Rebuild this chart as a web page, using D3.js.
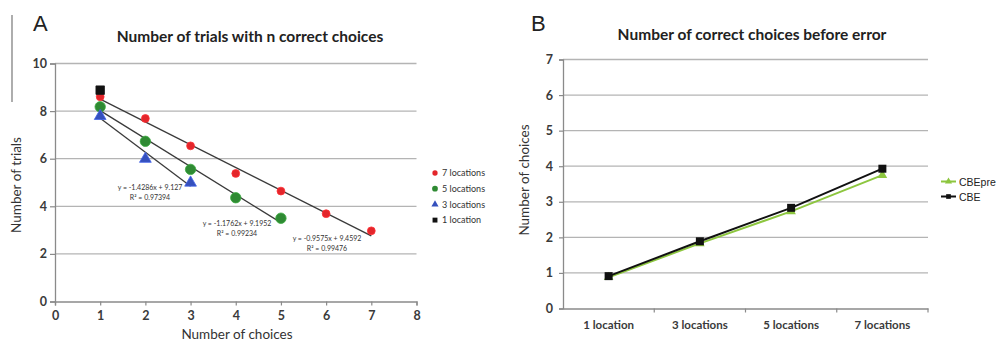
<!DOCTYPE html>
<html>
<head>
<meta charset="utf-8">
<script src="https://cdn.jsdelivr.net/npm/d3@7"></script>
<style>
  html, body { margin: 0; padding: 0; background: #fff; }
  svg { display: block; }
  text { font-family: Lato, "Open Sans", sans-serif; }
</style>
</head>
<body>
<svg id="chart" width="1000" height="342"></svg>
<script>
// ---------- Panel A: number of trials with n correct choices ----------
const choicesA = [1, 2, 3, 4, 5, 6, 7];
const loc7 = [8.6, 7.69, 6.54, 5.38, 4.64, 3.69, 2.97];
const loc5 = [8.18, 6.73, 5.55, 4.36, 3.50];
const loc3 = [7.79, 5.99, 4.99];
const loc1 = [8.88];
const seriesNamesA = ["7 locations", "5 locations", "3 locations", "1 location"];
const seriesColorsA = ["#e3262b", "#2f8a33", "#3550bd", "#111111"];
const xTicksA = [0, 1, 2, 3, 4, 5, 6, 7, 8];
const yTicksA = [0, 2, 4, 6, 8, 10];
// linear trend fits (slope, intercept, R²) and the x-range each spans
const trendSlopes = [-0.9575, -1.1762, -1.4286];
const trendIntercepts = [9.4592, 9.1952, 9.127];
const trendR2 = ["0.99476", "0.99234", "0.97394"];
const trendXEnd = [7, 5, 3];

// ---------- Panel B: number of correct choices before error ----------
const categoriesB = ["1 location", "3 locations", "5 locations", "7 locations"];
const cbePre = [0.88, 1.83, 2.73, 3.75];
const cbe = [0.91, 1.89, 2.83, 3.93];
const yTicksB = [0, 1, 2, 3, 4, 5, 6, 7];

const svg = d3.select("#chart");
const gridColor = "#b4b4b4";
const axisColor = "#8a8a8a";

// ================= Panel A =================
const xA = d3.scaleLinear().domain([0, 8]).range([55, 416.5]);
const yA = d3.scaleLinear().domain([0, 10]).range([301.5, 63.5]);
const gA = svg.append("g");

// thin divider line at the far left
gA.append("line").attr("x1", 12).attr("x2", 12).attr("y1", 15).attr("y2", 102)
  .attr("stroke", "#777").attr("stroke-width", 1.2);

gA.append("text").attr("x", 33).attr("y", 31).text("A")
  .style("font-family", "'Liberation Sans', Arial, sans-serif").style("font-size", "22px").attr("fill", "#222");

gA.append("text").attr("x", 250).attr("y", 42).attr("text-anchor", "middle")
  .style("font-size", "15.5px").style("font-weight", "bold").attr("fill", "#222")
  .text("Number of trials with n correct choices");

// horizontal gridlines
gA.append("g").selectAll("line").data(yTicksA.filter(d => d > 0)).join("line")
  .attr("x1", xA(0)).attr("x2", xA(8)).attr("y1", d => yA(d)).attr("y2", d => yA(d))
  .attr("stroke", gridColor).attr("stroke-width", 1.3);

// axes
const axA_x = gA.append("g").attr("transform", `translate(0,${yA(0)})`)
  .call(d3.axisBottom(xA).tickValues(xTicksA).tickSize(4).tickPadding(6).tickFormat(d3.format("d")));
const axA_y = gA.append("g").attr("transform", `translate(${xA(0)},0)`)
  .call(d3.axisLeft(yA).tickValues(yTicksA).tickSize(5).tickPadding(3).tickFormat(d3.format("d")));
[axA_x, axA_y].forEach(ax => {
  ax.select(".domain").attr("stroke", axisColor).attr("stroke-width", 1.3);
  ax.selectAll(".tick line").attr("stroke", axisColor).attr("stroke-width", 1.2);
  ax.selectAll(".tick text").attr("fill", "#3a3a3a").style("font-size", "12.5px")
    .style("font-family", "Lato, sans-serif").style("font-weight", "bold");
});

gA.append("text").attr("x", 237).attr("y", 339).attr("text-anchor", "middle")
  .style("font-size", "13.5px").attr("fill", "#333").text("Number of choices");
gA.append("text").attr("transform", "translate(21,185) rotate(-90)").attr("text-anchor", "middle")
  .style("font-size", "13.5px").attr("fill", "#333").text("Number of trials");

// trend lines
trendSlopes.forEach((m, i) => {
  gA.append("line")
    .attr("x1", xA(1)).attr("y1", yA(m * 1 + trendIntercepts[i]))
    .attr("x2", xA(trendXEnd[i])).attr("y2", yA(m * trendXEnd[i] + trendIntercepts[i]))
    .attr("stroke", "#3a3a3a").attr("stroke-width", 1.3);
});

// trend equations
const eqPos = [[327, 241], [237, 226], [150, 190]];
trendSlopes.forEach((m, i) => {
  const t = gA.append("text").attr("text-anchor", "middle").style("font-size", "7px").attr("fill", "#333");
  t.append("tspan").attr("x", eqPos[i][0]).attr("y", eqPos[i][1])
    .text(`y = ${m}x + ${trendIntercepts[i]}`);
  t.append("tspan").attr("x", eqPos[i][0]).attr("y", eqPos[i][1] + 9.5)
    .text(`R² = ${trendR2[i]}`);
});

// markers
const symRed = d3.symbol().type(d3.symbolCircle).size(48);
const symGreen = d3.symbol().type(d3.symbolCircle).size(85);
const symBlue = d3.symbol().type(d3.symbolTriangle).size(60);
const symBlack = d3.symbol().type(d3.symbolSquare).size(72);

function drawMarkers(vals, sym, color) {
  gA.append("g").selectAll("path").data(vals).join("path")
    .attr("transform", (d, i) => `translate(${xA(choicesA[i])},${yA(d)})`)
    .attr("d", sym).attr("fill", color)
    .attr("stroke", d3.color(color).brighter(0.6)).attr("stroke-width", 0.8);
}
drawMarkers(loc7, symRed, seriesColorsA[0]);
drawMarkers(loc5, symGreen, seriesColorsA[1]);
drawMarkers(loc3, symBlue, seriesColorsA[2]);
drawMarkers(loc1, symBlack, seriesColorsA[3]);

// legend
const legSyms = [
  d3.symbol().type(d3.symbolCircle).size(22),
  d3.symbol().type(d3.symbolCircle).size(26),
  d3.symbol().type(d3.symbolTriangle).size(22),
  d3.symbol().type(d3.symbolSquare).size(24)
];
const legA = gA.append("g").selectAll("g").data(seriesNamesA).join("g")
  .attr("transform", (d, i) => `translate(435,${173 + i * 15.7})`);
legA.append("path").attr("d", (d, i) => legSyms[i]()).attr("fill", (d, i) => seriesColorsA[i]);
legA.append("text").attr("x", 7).attr("y", 3.2).style("font-size", "9px").attr("fill", "#333").text(d => d);

// ================= Panel B =================
const xB = d3.scaleBand().domain(categoriesB).range([563, 928]);
const yB = d3.scaleLinear().domain([0, 7]).range([308.5, 59.5]);
const gB = svg.append("g");

gB.append("text").attr("x", 531).attr("y", 31).text("B")
  .style("font-family", "'Liberation Sans', Arial, sans-serif").style("font-size", "22px").attr("fill", "#222");

gB.append("text").attr("x", 752).attr("y", 40).attr("text-anchor", "middle")
  .style("font-size", "15.5px").style("font-weight", "bold").attr("fill", "#222")
  .text("Number of correct choices before error");

gB.append("g").selectAll("line").data(yTicksB.filter(d => d > 0)).join("line")
  .attr("x1", 563).attr("x2", 928).attr("y1", d => yB(d)).attr("y2", d => yB(d))
  .attr("stroke", gridColor).attr("stroke-width", 1.3);

const axB_x = gB.append("g").attr("transform", `translate(0,${yB(0)})`)
  .call(d3.axisBottom(xB).tickSize(0).tickPadding(12));
// category boundary ticks
gB.append("g").selectAll("line").data(categoriesB.slice(1).concat(["end"])).join("line")
  .attr("x1", (d, i) => 563 + (i + 1) * xB.bandwidth()).attr("x2", (d, i) => 563 + (i + 1) * xB.bandwidth())
  .attr("y1", yB(0)).attr("y2", yB(0) + 4).attr("stroke", axisColor).attr("stroke-width", 1.2);
const axB_y = gB.append("g").attr("transform", "translate(563,0)")
  .call(d3.axisLeft(yB).tickValues(yTicksB).tickSize(4).tickPadding(6).tickFormat(d3.format("d")));
[axB_x, axB_y].forEach(ax => {
  ax.select(".domain").attr("stroke", axisColor).attr("stroke-width", 1.3);
  ax.selectAll(".tick line").attr("stroke", axisColor).attr("stroke-width", 1.2);
  ax.selectAll(".tick text").attr("fill", "#3a3a3a").style("font-size", "12.5px")
    .style("font-family", "Lato, sans-serif").style("font-weight", "bold");
});
axB_x.selectAll(".tick text").style("font-size", "11.5px");

gB.append("text").attr("transform", "translate(529,180) rotate(-90)").attr("text-anchor", "middle")
  .style("font-size", "13.5px").attr("fill", "#333").text("Number of choices");

const cx = d => xB(d) + xB.bandwidth() / 2;
const lineB = vals => d3.line().x((d, i) => cx(categoriesB[i])).y(d => yB(d))(vals);

gB.append("path").attr("d", lineB(cbePre)).attr("fill", "none").attr("stroke", "#8dc63f").attr("stroke-width", 2);
gB.append("g").selectAll("path").data(cbePre).join("path")
  .attr("transform", (d, i) => `translate(${cx(categoriesB[i])},${yB(d)})`)
  .attr("d", d3.symbol().type(d3.symbolTriangle).size(40)).attr("fill", "#8dc63f");

gB.append("path").attr("d", lineB(cbe)).attr("fill", "none").attr("stroke", "#111").attr("stroke-width", 2);
gB.append("g").selectAll("path").data(cbe).join("path")
  .attr("transform", (d, i) => `translate(${cx(categoriesB[i])},${yB(d)})`)
  .attr("d", d3.symbol().type(d3.symbolSquare).size(64)).attr("fill", "#111");

// legend
const legB = gB.append("g").selectAll("g").data([["CBEpre", "#8dc63f", d3.symbolTriangle], ["CBE", "#111", d3.symbolSquare]]).join("g")
  .attr("transform", (d, i) => `translate(941,${181.5 + i * 15})`);
legB.append("line").attr("x1", 0).attr("x2", 15).attr("stroke", d => d[1]).attr("stroke-width", 2);
legB.append("path").attr("transform", "translate(7.5,0)").attr("d", d => d3.symbol().type(d[2]).size(22)()).attr("fill", d => d[1]);
legB.append("text").attr("x", 18).attr("y", 4).style("font-family", "'Liberation Sans', Arial, sans-serif")
  .style("font-size", "10.5px").attr("fill", "#222").text(d => d[0]);
</script>
</body>
</html>
